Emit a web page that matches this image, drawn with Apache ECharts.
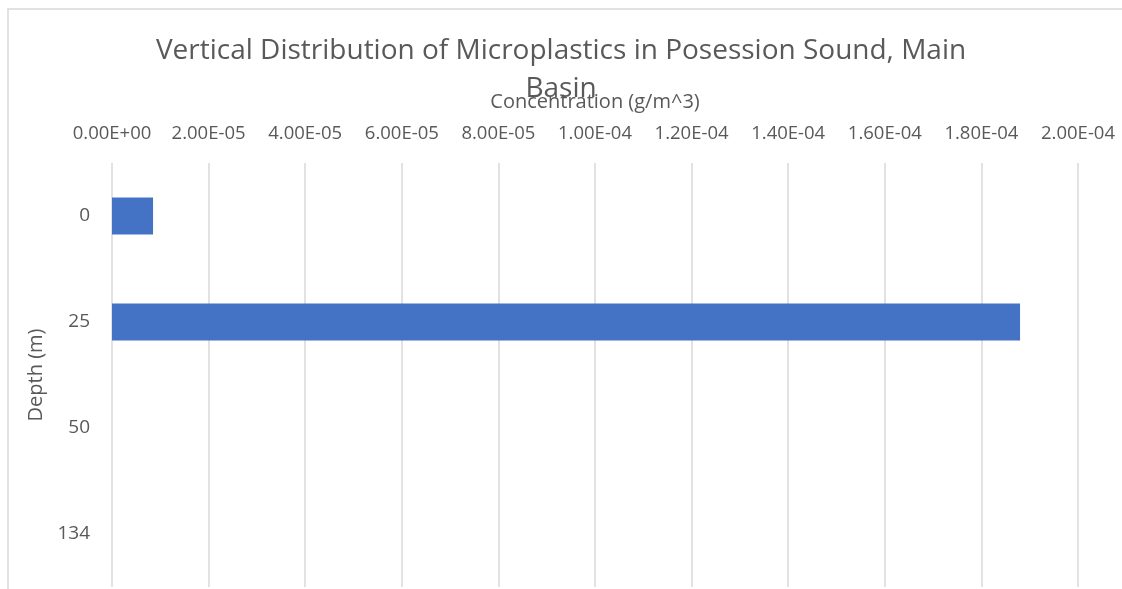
<!DOCTYPE html>
<html>
<head>
<meta charset="utf-8">
<script src="https://cdn.jsdelivr.net/npm/echarts@6/dist/echarts.min.js"></script>
<style>
  html, body { margin: 0; padding: 0; background: #ffffff; }
  #chart { width: 1122px; height: 589px; }
</style>
</head>
<body>
<div id="chart"></div>
<script>
// Sampling depths (m) and measured microplastic concentration (g/m^3)
const depths = ['0', '25', '50', '134'];
const concentration = [8.5e-6, 1.88e-4, null, null];

const titleText = 'Vertical Distribution of Microplastics in Posession Sound, Main\nBasin';
const xName = 'Concentration (g/m^3)';
const yName = 'Depth (m)';

const FONT = "'Open Sans', 'Noto Sans', sans-serif";
const TEXT = '#595959';
const GRID = '#d9d9d9';

// Excel-style scientific notation: 2.00E-05
function sci(v) {
  const s = Number(v).toExponential(2);
  const m = s.match(/^(-?[\d.]+)e([+-])(\d+)$/);
  if (!m) return s;
  return m[1] + 'E' + m[2] + m[3].padStart(2, '0');
}

const chart = echarts.init(document.getElementById('chart'), null, { renderer: 'canvas' });
chart.setOption({
  backgroundColor: '#ffffff',
  animation: false,
  graphic: [{
    type: 'rect',
    shape: { x: 8, y: 9, width: 1300, height: 800 },
    style: { fill: 'none', stroke: '#d9d9d9', lineWidth: 1.5 },
    silent: true,
    z: -1
  }],
  title: {
    text: titleText,
    left: 'center',
    top: 27,
    textStyle: {
      fontFamily: FONT,
      fontSize: 28,
      fontWeight: 'normal',
      color: TEXT,
      lineHeight: 38
    }
  },
  grid: { left: 112, right: 44, top: 163, bottom: 2 },
  xAxis: {
    type: 'value',
    position: 'top',
    min: 0,
    max: 2e-4,
    interval: 2e-5,
    name: xName,
    nameLocation: 'middle',
    nameGap: 51,
    nameTextStyle: { fontFamily: FONT, fontSize: 20, color: TEXT },
    axisLine: { show: false },
    axisTick: { show: false },
    axisLabel: {
      margin: 20,
      fontFamily: FONT,
      fontSize: 18.5,
      color: TEXT,
      formatter: sci
    },
    splitLine: { show: true, lineStyle: { color: GRID, width: 1.5 } }
  },
  yAxis: {
    type: 'category',
    inverse: true,
    data: depths,
    name: yName,
    nameLocation: 'middle',
    nameGap: 64,
    nameRotate: 90,
    nameTextStyle: { fontFamily: FONT, fontSize: 20, color: TEXT },
    axisLine: { show: false },
    axisTick: { show: false },
    axisLabel: { margin: 22, fontFamily: FONT, fontSize: 19, color: TEXT }
  },
  series: [{
    type: 'bar',
    data: concentration,
    barCategoryGap: '65%',
    itemStyle: { color: '#4472C4' }
  }]
});
</script>
</body>
</html>
